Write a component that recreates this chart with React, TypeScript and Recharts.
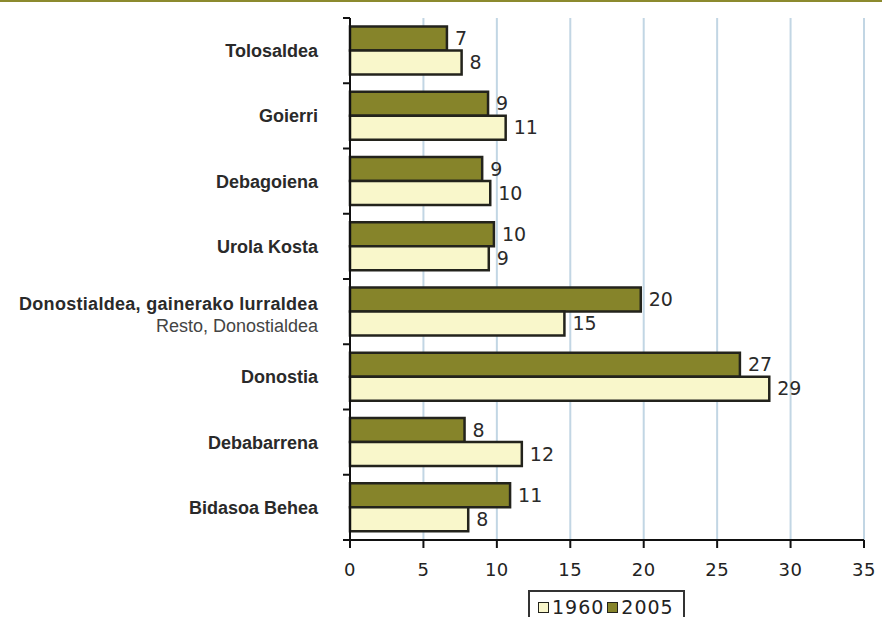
import React from "react";
import { BarChart, Bar, XAxis, YAxis, CartesianGrid, Legend, LabelList } from "recharts";

const regions = [
  "Tolosaldea",
  "Goierri",
  "Debagoiena",
  "Urola Kosta",
  "Donostialdea, gainerako lurraldea",
  "Donostia",
  "Debabarrena",
  "Bidasoa Behea",
];
const regionSubtitles = ["", "", "", "", "Resto, Donostialdea", "", "", ""];
const values1960 = [7.6, 10.6, 9.55, 9.45, 14.6, 28.55, 11.7, 8.05];
const values2005 = [6.6, 9.4, 9.0, 9.8, 19.8, 26.55, 7.8, 10.9];
const xTicks = [0, 5, 10, 15, 20, 25, 30, 35];

const OLIVE = "#86842a";
const LIGHT = "#f9f7cb";
const EDGE = "#23231c";
const TICK_GAP = 32; // tickSize + tickMargin on the category axis
const NUM_FONT = "'DejaVu Sans', Verdana, sans-serif";
const LABEL_FONT = "'Liberation Sans', Arial, sans-serif";

const rows = regions.map((name, i) => ({
  name,
  y1960: values1960[i],
  y2005: values2005[i],
}));

function CategoryTick(props: any) {
  const { x, y, payload, index, visibleTicksCount } = props;
  const half = payload?.offset ?? 32.6;
  const ax = x + TICK_GAP;
  const sub = regionSubtitles[regions.indexOf(payload.value)];
  const last = index === visibleTicksCount - 1;
  return (
    <g>
      <line x1={ax - 7} x2={ax} y1={y - half} y2={y - half} stroke="#111" strokeWidth={2} />
      {last && <line x1={ax - 7} x2={ax} y1={y + half} y2={y + half} stroke="#111" strokeWidth={2} />}
      {sub ? (
        <>
          <text x={x} y={y - 1.5} textAnchor="end" fontFamily={LABEL_FONT} fontWeight="bold" fontSize={18} fill="#2a2a2a" letterSpacing={0.3}>
            {payload.value}
          </text>
          <text x={x} y={y + 20.5} textAnchor="end" fontFamily={LABEL_FONT} fontSize={18} fill="#444">
            {sub}
          </text>
        </>
      ) : (
        <text x={x} y={y + 6.5} textAnchor="end" fontFamily={LABEL_FONT} fontWeight="bold" fontSize={18} fill="#2a2a2a">
          {payload.value}
        </text>
      )}
    </g>
  );
}

function LegendBox() {
  const sq = (fill: string) => (
    <span
      style={{
        display: "inline-block",
        width: 9,
        height: 9,
        background: fill,
        border: `1.5px solid ${EDGE}`,
        marginRight: 3,
      }}
    />
  );
  return (
    <div
      style={{
        display: "flex",
        alignItems: "center",
        border: "2px solid #333",
        background: "#fff",
        padding: "4px 9px 8px 8px",
        fontFamily: NUM_FONT,
        fontSize: 19,
        lineHeight: "22px",
        letterSpacing: 1,
        color: "#222",
        whiteSpace: "nowrap",
      }}
    >
      {sq(LIGHT)}
      <span style={{ marginRight: 3 }}>1960</span>
      {sq(OLIVE)}
      <span>2005</span>
    </div>
  );
}

export default function App() {
  return (
    <div style={{ position: "absolute", left: 0, top: 0, width: 882, height: 617, background: "#fff", overflow: "hidden" }}>
      <div style={{ position: "absolute", left: 0, top: 0, width: 882, height: 2, background: "#8c8a2e" }} />
      <BarChart
        width={882}
        height={617}
        data={rows}
        layout="vertical"
        margin={{ top: 18, right: 18, bottom: 37, left: 10 }}
        barCategoryGap="13%"
        barGap={0}
      >
        <CartesianGrid horizontal={false} stroke="#c2d6e4" strokeWidth={2} />
        <XAxis
          type="number"
          domain={[0, 35]}
          ticks={xTicks}
          interval={0}
          height={40}
          tickSize={8}
          tickMargin={15}
          axisLine={{ stroke: "#111", strokeWidth: 2 }}
          tickLine={{ stroke: "#111", strokeWidth: 2 }}
          tick={{ fill: "#222", fontSize: 18, fontFamily: NUM_FONT, letterSpacing: 0.5 }}
        />
        <YAxis
          type="category"
          dataKey="name"
          width={340}
          interval={0}
          tickSize={6}
          tickMargin={26}
          tickLine={false}
          axisLine={{ stroke: "#111", strokeWidth: 2 }}
          tick={<CategoryTick />}
        />
        <Legend
          layout="horizontal"
          verticalAlign="middle"
          align="center"
          wrapperStyle={{ top: 590, left: 528, width: "auto" }}
          content={() => <LegendBox />}
        />
        <Bar dataKey="y2005" name="2005" fill={OLIVE} stroke={EDGE} strokeWidth={2.5} isAnimationActive={false}>
          <LabelList
            dataKey="y2005"
            position="right"
            offset={8}
            formatter={(v: any) => Math.round(Number(v))}
            style={{ fill: "#2a2a2a", fontSize: 19, fontFamily: NUM_FONT }}
          />
        </Bar>
        <Bar dataKey="y1960" name="1960" fill={LIGHT} stroke={EDGE} strokeWidth={2.5} isAnimationActive={false}>
          <LabelList
            dataKey="y1960"
            position="right"
            offset={8}
            formatter={(v: any) => Math.round(Number(v))}
            style={{ fill: "#2a2a2a", fontSize: 19, fontFamily: NUM_FONT }}
          />
        </Bar>
      </BarChart>
    </div>
  );
}
